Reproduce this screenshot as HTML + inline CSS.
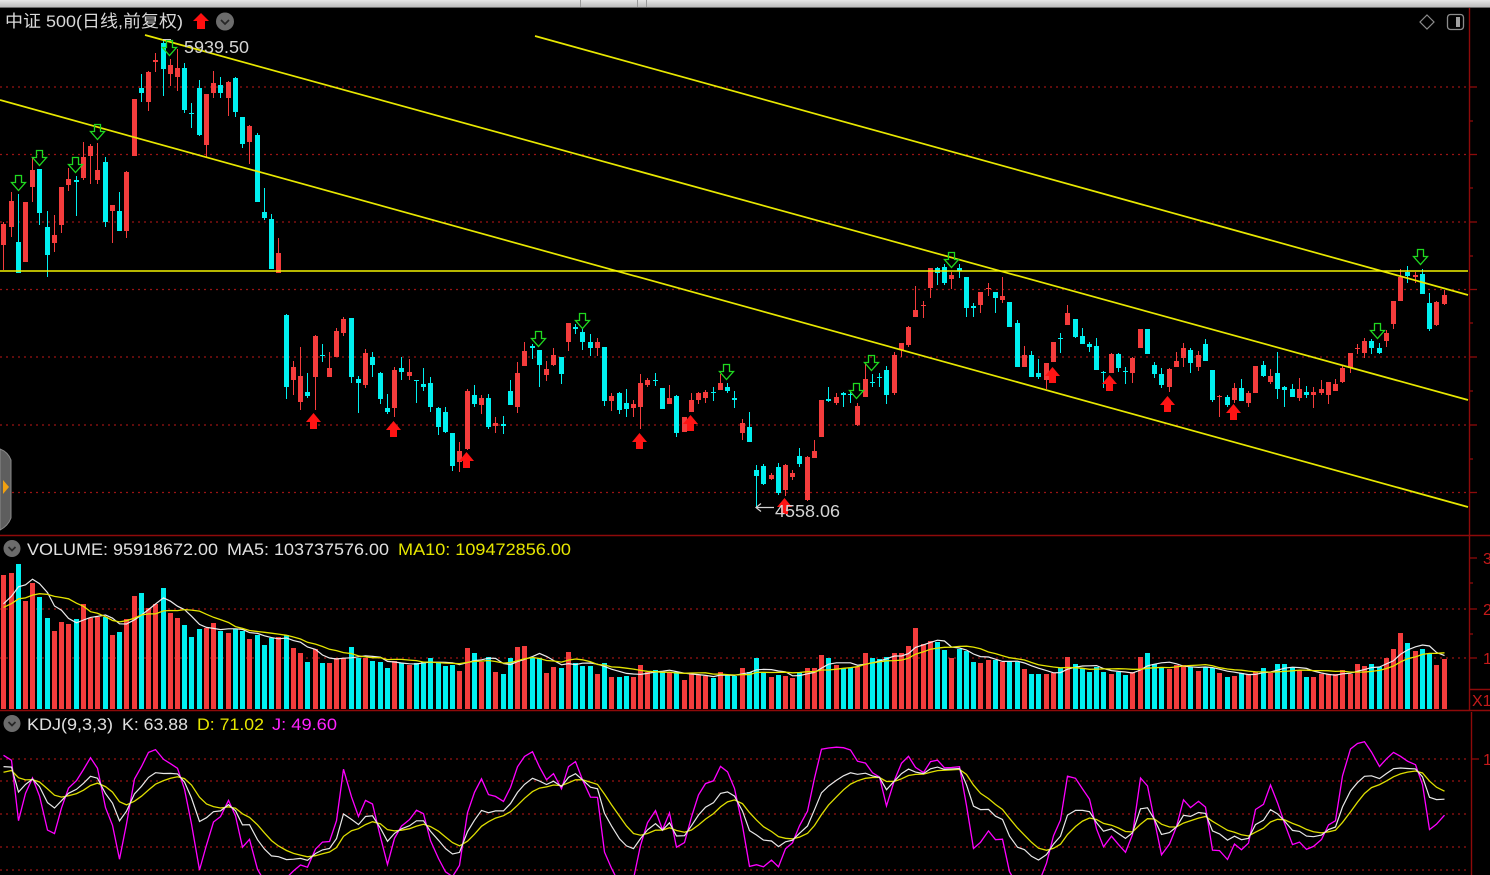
<!DOCTYPE html>
<html><head><meta charset="utf-8">
<style>
html,body{margin:0;padding:0;background:#000;}
body{width:1490px;height:875px;overflow:hidden;position:relative;font-family:"Liberation Sans","Noto Sans CJK SC",sans-serif;}
svg{position:absolute;left:0;top:0;}
</style></head><body>
<svg id="c" width="1490" height="875" viewBox="0 0 1490 875" xmlns="http://www.w3.org/2000/svg" font-family="Liberation Sans, Noto Sans CJK SC, sans-serif">
<defs>
 <linearGradient id="tb" x1="0" y1="0" x2="0" y2="1"><stop offset="0" stop-color="#e6e6e6"/><stop offset="1" stop-color="#bcbcbc"/></linearGradient>
 <clipPath id="kclip"><rect x="0" y="712" width="1469" height="163"/></clipPath>
</defs>
<rect width="1490" height="875" fill="#000"/>
<rect x="0" y="0" width="1490" height="7" fill="url(#tb)"/>
<line x1="0" y1="7.5" x2="1490" y2="7.5" stroke="#6a6a6a"/>
<line x1="580.5" y1="0" x2="580.5" y2="7" stroke="#9a9a9a"/>
<line x1="637.5" y1="0" x2="637.5" y2="7" stroke="#9a9a9a"/>
<line x1="646.5" y1="0" x2="646.5" y2="7" stroke="#9a9a9a"/>

<!-- grid -->
<g stroke="#9a1414" stroke-width="1.3" stroke-dasharray="2,4" fill="none">
 <line x1="0" y1="87" x2="1468" y2="87"/>
 <line x1="0" y1="154.5" x2="1468" y2="154.5"/>
 <line x1="0" y1="222" x2="1468" y2="222"/>
 <line x1="0" y1="289.5" x2="1468" y2="289.5"/>
 <line x1="0" y1="357" x2="1468" y2="357"/>
 <line x1="0" y1="425" x2="1468" y2="425"/>
 <line x1="0" y1="492.5" x2="1468" y2="492.5"/>
 <line x1="0" y1="609" x2="1468" y2="609"/>
 <line x1="0" y1="658" x2="1468" y2="658"/>
 <line x1="0" y1="759" x2="1468" y2="759"/>
 <line x1="0" y1="781" x2="1468" y2="781"/>
 <line x1="0" y1="814" x2="1468" y2="814"/>
 <line x1="0" y1="847" x2="1468" y2="847"/>
 <line x1="0" y1="870" x2="1468" y2="870"/>
</g>

<!-- separators & axis -->
<g stroke="#8e0a0a" stroke-width="1.4" fill="none">
 <line x1="0" y1="535.5" x2="1490" y2="535.5"/>
 <line x1="0" y1="710.5" x2="1490" y2="710.5"/>
 <line x1="1469.5" y1="8" x2="1469.5" y2="710"/>
 <line x1="1471.5" y1="712" x2="1471.5" y2="875"/>
 <line x1="1469" y1="689.5" x2="1490" y2="689.5"/>
</g>
<g stroke="#8e0a0a" stroke-width="1.3">
 <line x1="1469" y1="87" x2="1477" y2="87"/>
 <line x1="1469" y1="154.5" x2="1477" y2="154.5"/>
 <line x1="1469" y1="222" x2="1477" y2="222"/>
 <line x1="1469" y1="289.5" x2="1477" y2="289.5"/>
 <line x1="1469" y1="357" x2="1477" y2="357"/>
 <line x1="1469" y1="425" x2="1477" y2="425"/>
 <line x1="1469" y1="492.5" x2="1477" y2="492.5"/>
 <line x1="1469" y1="121" x2="1473" y2="121"/>
 <line x1="1469" y1="188" x2="1473" y2="188"/>
 <line x1="1469" y1="256" x2="1473" y2="256"/>
 <line x1="1469" y1="323" x2="1473" y2="323"/>
 <line x1="1469" y1="391" x2="1473" y2="391"/>
 <line x1="1469" y1="459" x2="1473" y2="459"/>
 <line x1="1469" y1="558" x2="1477" y2="558"/>
 <line x1="1469" y1="583" x2="1473" y2="583"/>
 <line x1="1469" y1="609" x2="1477" y2="609"/>
 <line x1="1469" y1="634" x2="1473" y2="634"/>
 <line x1="1469" y1="658" x2="1477" y2="658"/>
 <line x1="1471" y1="759" x2="1479" y2="759"/>
</g>
<g fill="#c41a1a" font-size="16">
 <text x="1483" y="564">3</text>
 <text x="1483" y="615">2</text>
 <text x="1483" y="664">1</text>
 <text x="1472" y="706">X1</text>
 <text x="1483" y="765">1</text>
</g>

<g id="vol"></g>
<g id="vlines"></g>
<g id="cand"></g>

<!-- trend lines -->
<g stroke="#e8e800" stroke-width="1.7" fill="none">
 <line x1="0" y1="100" x2="1468" y2="507"/>
 <line x1="145" y1="35" x2="1468" y2="400"/>
 <line x1="535" y1="36" x2="1468" y2="295"/>
</g>
<line x1="0" y1="271" x2="1468" y2="271" stroke="#f4f400" stroke-width="1.6"/>

<g id="arrows"></g>
<g id="kdj" clip-path="url(#kclip)"></g>

<!-- labels -->
<text x="5" y="27" font-size="17" fill="#d9d9d9" textLength="178" lengthAdjust="spacingAndGlyphs" font-family="Liberation Sans, Noto Sans CJK SC, sans-serif">中证 500(日线,前复权)</text>
<path d="M201 13 L209 21 H205 V29 H197 V21 H193 Z" fill="#ff1010"/>
<circle cx="225" cy="21.5" r="9" fill="#6c6c6c"/>
<polyline points="221,20 225,24 229,20" stroke="#262626" stroke-width="1.7" fill="none"/>
<path d="M1427 15 L1434 22 L1427 29 L1420 22 Z" stroke="#8c8c8c" stroke-width="1.2" fill="none"/>
<rect x="1447.5" y="14.5" width="16" height="15" rx="3" stroke="#8c8c8c" stroke-width="1.3" fill="none"/>
<rect x="1456" y="17" width="4" height="10" fill="#a0a0a0"/>

<text x="184" y="53" font-size="17.5" fill="#d4d4d4" textLength="65" lengthAdjust="spacingAndGlyphs">5939.50</text>
<line x1="163" y1="39.5" x2="171" y2="39.5" stroke="#cfcfcf" stroke-width="1"/>
<text x="775" y="517" font-size="17.5" fill="#d4d4d4" textLength="65" lengthAdjust="spacingAndGlyphs">4558.06</text>
<g stroke="#d4d4d4" stroke-width="1.2" fill="none">
 <line x1="756" y1="507.5" x2="774" y2="507.5"/>
 <polyline points="761,503.5 756,507.5 761,511.5"/>
</g>

<circle cx="12" cy="548.5" r="8.5" fill="#6c6c6c"/>
<polyline points="8.5,547 12,550.5 15.5,547" stroke="#262626" stroke-width="1.7" fill="none"/>
<text y="555" font-size="17">
 <tspan x="27" fill="#e0e0e0" textLength="191" lengthAdjust="spacingAndGlyphs">VOLUME: 95918672.00</tspan>
</text>
<text x="227" y="555" font-size="17" fill="#e0e0e0" textLength="162" lengthAdjust="spacingAndGlyphs">MA5: 103737576.00</text>
<text x="398" y="555" font-size="17" fill="#e6e600" textLength="173" lengthAdjust="spacingAndGlyphs">MA10: 109472856.00</text>

<circle cx="12" cy="723.5" r="8.5" fill="#6c6c6c"/>
<polyline points="8.5,722 12,725.5 15.5,722" stroke="#262626" stroke-width="1.7" fill="none"/>
<text x="27" y="730" font-size="17" fill="#e0e0e0" textLength="86" lengthAdjust="spacingAndGlyphs">KDJ(9,3,3)</text>
<text x="122" y="730" font-size="17" fill="#e0e0e0" textLength="66" lengthAdjust="spacingAndGlyphs">K: 63.88</text>
<text x="197" y="730" font-size="17" fill="#e6e600" textLength="67" lengthAdjust="spacingAndGlyphs">D: 71.02</text>
<text x="272" y="730" font-size="17" fill="#ff22ff" textLength="65" lengthAdjust="spacingAndGlyphs">J: 49.60</text>

<!-- left handle -->
<path d="M0 449 Q8 452 11 460 V518 Q8 526 0 530 Z" fill="#5e5e5e" stroke="#8a8a8a" stroke-width="1"/>
<path d="M3 480 L9 487 L3 494 Z" fill="#f0a010"/>
</svg>
<script>
(function(){
var C=[
[1,224,245,222,270],[1,201,227,192,237],[0,242,273,194,273],[1,202,262,202,262],[1,170,187,158,202],
[0,169,213,169,225],[0,227,255,211,277],[1,235,243,215,252],[1,187,225,187,233],[1,179,185,168,191],
[0,180,182,176,216],[1,157,178,142,180],[1,146,156,144,184],[1,170,180,143,184],[0,162,222,157,227],
[1,205,211,205,243],[0,211,231,192,231],[1,172,231,171,238],[1,99,156,99,156],[0,88,93,74,102],
[1,72,102,71,111],[1,60,62,53,72],[0,43,69,39,96],[1,65,74,59,86],[1,68,77,49,91],
[0,68,110,63,113],[0,113,114,103,128],[0,88,135,80,136],[1,94,145,94,158],[1,83,93,71,98],
[0,85,93,77,98],[1,82,98,81,116],[0,78,112,77,117],[0,117,144,117,148],[1,126,142,125,164],
[0,135,202,133,202],[0,212,218,188,220],[0,219,269,214,269],[1,253,273,238,273],
[0,315,387,314,399],[1,367,380,361,395],[1,376,402,347,410],[0,392,396,373,398],[1,336,377,335,410],
[0,355,356,344,362],[1,368,377,352,377],[1,331,357,328,357],[1,319,333,317,336],[0,318,377,318,383],
[0,379,383,376,413],[1,353,385,349,388],[0,357,365,352,377],[0,373,399,372,404],[0,408,412,394,414],
[1,370,408,367,417],[0,368,372,357,380],[1,372,376,359,380],[0,380,381,380,403],[0,384,387,368,391],
[0,383,407,377,412],[0,408,427,407,435],[0,412,432,407,433],[0,433,466,433,471],[1,451,462,442,472],
[1,391,449,389,450],[0,395,404,385,407],[1,398,405,395,414],[0,398,427,394,429],[1,423,426,417,433],
[0,424,426,416,434],[0,391,405,380,405],[1,373,407,362,413],[1,351,366,342,366],[0,346,348,344,359],
[0,350,365,350,387],[1,369,375,361,381],[1,355,365,348,366],[0,357,374,357,384],[1,323,342,323,351],
[0,327,329,324,334],[0,332,342,329,350],[0,342,348,334,356],[1,342,348,338,356],[0,347,401,347,406],
[1,396,401,393,411],[0,393,410,392,414],[0,403,409,389,417],[1,404,408,400,417],[1,383,407,374,429],
[1,380,385,378,387],[0,380,381,373,386],[0,388,409,388,409],[1,398,404,385,404],[0,396,433,395,437],
[1,417,432,417,432],[1,400,412,393,412],[1,393,400,392,404],[1,392,398,390,403],[0,392,393,387,401],
[1,383,390,374,390],[0,387,391,383,393],[0,398,400,391,408],[1,423,433,419,440],[0,427,442,412,442],
[0,470,476,465,507],[0,466,484,464,485],[1,475,479,473,480],[0,467,493,463,495],[1,465,490,464,496],
[1,473,477,470,480],[0,456,464,448,467],[1,457,500,456,501],[1,451,458,440,458],[1,400,437,400,437],
[0,399,401,387,402],[1,397,403,393,405],[0,393,395,392,407],[0,394,395,392,403],[1,406,425,403,426],
[1,379,397,364,397],[0,382,383,374,387],[0,377,378,373,387],[0,370,395,366,404],[1,355,393,352,395],
[1,343,350,343,357],[1,327,345,326,347],[1,310,317,286,317],[1,305,306,301,318],[1,268,288,268,298],
[0,268,273,267,285],[0,267,283,264,285],[1,275,279,272,289],[0,268,271,264,278],[0,277,308,277,317],
[0,306,308,303,317],[1,292,305,292,313],[1,288,289,283,296],[0,292,298,292,313],[1,296,300,277,303],
[0,302,327,302,327],[0,323,367,320,367],[1,355,367,346,367],[0,355,377,351,377],[0,373,377,359,379],
[1,363,380,363,389],[1,342,362,342,362],[0,338,339,333,353],[1,313,325,305,325],[0,319,337,319,338],
[0,336,344,328,344],[0,344,347,342,352],[0,346,370,338,370],[0,372,373,371,388],[1,354,373,353,373],
[0,354,368,353,372],[0,371,372,367,384],[1,358,373,357,383],[1,329,348,329,348],[0,329,354,329,354],
[0,365,374,362,378],[0,374,385,368,388],[1,369,387,368,392],[1,361,367,352,367],[1,348,358,343,367],
[0,350,363,348,373],[1,355,367,351,371],[0,344,361,339,361],[0,370,400,370,402],[1,396,397,395,417],
[0,397,405,395,407],[1,388,400,383,403],[0,388,401,379,401],[1,393,403,391,407],[1,366,393,366,393],
[0,365,376,361,377],[1,376,382,369,384],[0,373,389,352,399],[0,387,390,386,407],[0,389,397,384,397],
[1,389,398,378,401],[0,392,395,386,398],[1,392,395,387,408],[1,389,393,380,395],[1,382,395,382,404],
[1,384,391,379,391],[1,368,382,365,383],[1,353,368,353,373],[1,348,349,344,354],[1,341,353,338,358],
[0,341,348,339,354],[0,348,353,343,354],[1,333,341,330,347],[1,301,324,301,329],[1,277,301,269,301],
[0,272,276,266,283],[1,275,277,272,283],[0,274,294,269,294],[0,303,329,293,331],[1,302,325,301,326],
[1,295,304,290,305]
];
var V=[575,573,564,601,583,597,618,631,622,624,
619,604,618,617,617,635,632,619,596,593,
608,604,588,613,618,625,637,629,628,623,
631,633,629,631,639,635,645,638,637,635,
648,653,662,649,663,663,658,658,647,658,
658,661,662,668,661,663,665,663,662,658,
663,666,665,671,648,653,662,657,672,674,
658,647,646,658,658,673,667,668,652,663,
666,666,674,663,677,677,676,677,665,672,
670,672,672,672,680,674,675,676,678,672,
675,676,668,672,658,673,677,675,676,678,
672,668,668,655,658,665,668,668,667,653,
658,659,657,653,653,646,628,644,641,642,
650,658,649,651,662,663,660,660,662,662,
662,669,674,674,674,673,668,657,664,668,
672,667,672,674,672,675,672,657,653,664,
668,669,665,665,667,671,667,668,673,677,
676,673,674,672,668,673,664,664,667,670,
677,677,674,674,674,670,674,664,666,664,
667,658,649,633,643,651,649,654,665,659];
var ns="http://www.w3.org/2000/svg";
function el(tag,attrs,parent){var e=document.createElementNS(ns,tag);for(var k in attrs)e.setAttribute(k,attrs[k]);parent.appendChild(e);return e;}
var gC=document.getElementById('cand'),gV=document.getElementById('vol'),gL=document.getElementById('vlines'),gK=document.getElementById('kdj'),gA=document.getElementById('arrows');
var RED='#f43c3c',CY='#00f0f0';
var N=C.length;
function X(i){return Math.round(3.3+7.238*i);}
var rw='',rb='',cw='',cb='',vr='',vc='';
for(var i=0;i<N;i++){
 var d=C[i],x=X(i);
 var wick='M'+(x+0.5)+' '+d[3]+'V'+d[4];
 var h=Math.max(1,d[2]-d[1]);
 var body='M'+(x-2)+' '+d[1]+'h5v'+h+'h-5z';
 if(d[0]){rw+=wick;rb+=body;}else{cw+=wick;cb+=body;}
 var vb='M'+(x-2)+' '+V[i]+'h5V709h-5z';
 if(d[0])vr+=vb;else vc+=vb;
}
el('path',{d:vr,fill:RED},gV);
el('path',{d:vc,fill:CY},gV);
el('path',{d:rw,stroke:RED,'stroke-width':1,fill:'none'},gC);
el('path',{d:cw,stroke:CY,'stroke-width':1,fill:'none'},gC);
el('path',{d:rb,fill:RED},gC);
el('path',{d:cb,fill:CY},gC);
// volume MAs
var all=[98,98,98,98,98,98,98,98,98];
for(i=0;i<N;i++)all.push(709-V[i]);
function ma(n){var p=[];for(var i=0;i<N;i++){var j=i+9,s=0;for(var k=j-n+1;k<=j;k++)s+=all[k];p.push((X(i)+0.5)+','+(709-s/n).toFixed(1));}return p.join(' ');}
el('polyline',{points:ma(5),stroke:'#ececec',fill:'none','stroke-width':1.2},gL);
el('polyline',{points:ma(10),stroke:'#e4e400',fill:'none','stroke-width':1.3},gL);
// KDJ
var hs=[],ls=[],cs=[];
for(i=0;i<8;i++){hs.push(235);ls.push(300);cs.push(260);}
for(i=0;i<N;i++){var d=C[i];hs.push(d[3]);ls.push(d[4]);cs.push(d[0]?d[1]:d[2]);}
var K=91,D=85.5,kp=[],dp=[],jp=[];
function Y(v){return (869.5-1.105*v).toFixed(1);}
for(i=0;i<N;i++){
 var j=i+8,hh=1e9,ll=-1e9;
 for(var k=j-8;k<=j;k++){if(hs[k]<hh)hh=hs[k];if(ls[k]>ll)ll=ls[k];}
 var rsv=(ll==hh)?50:(ll-cs[j])/(ll-hh)*100;
 K=2/3*K+rsv/3;D=2/3*D+K/3;var J=3*K-2*D;
 var x=X(i)+0.5;
 kp.push(x+','+Y(K));dp.push(x+','+Y(D));jp.push(x+','+Y(J));
}
el('polyline',{points:jp.join(' '),stroke:'#ff00ff',fill:'none','stroke-width':1.3},gK);
el('polyline',{points:dp.join(' '),stroke:'#dede00',fill:'none','stroke-width':1.3},gK);
el('polyline',{points:kp.join(' '),stroke:'#e8e8e8',fill:'none','stroke-width':1.2},gK);
// arrows
var G=[[18,175],[39,150],[75,157],[97,124],[169,40],[538,331],[582,313],[726,364],[856,383],[871,355],[951,252],[1377,323],[1420,249]];
var R=[[313,413],[393,421],[466,452],[639,433],[690,415],[784,498],[1052,367],[1109,375],[1167,396],[1233,404]];
var gp='';
for(i=0;i<G.length;i++){var cx=G[i][0]+0.5,y=G[i][1]+0.5;gp+='M'+(cx-3)+' '+y+'H'+(cx+3)+'V'+(y+7)+'H'+(cx+7)+'L'+cx+' '+(y+15)+'L'+(cx-7)+' '+(y+7)+'H'+(cx-3)+'Z';}
el('path',{d:gp,stroke:'#20d820',fill:'none','stroke-width':1.3},gA);
var rp='';
for(i=0;i<R.length;i++){var cx=R[i][0]+0.5,y=R[i][1];rp+='M'+cx+' '+y+'L'+(cx+7.5)+' '+(y+9)+'H'+(cx+3.5)+'V'+(y+16)+'H'+(cx-3.5)+'V'+(y+9)+'H'+(cx-7.5)+'Z';}
el('path',{d:rp,fill:'#ff1414'},gA);
})();
</script>
</body></html>
